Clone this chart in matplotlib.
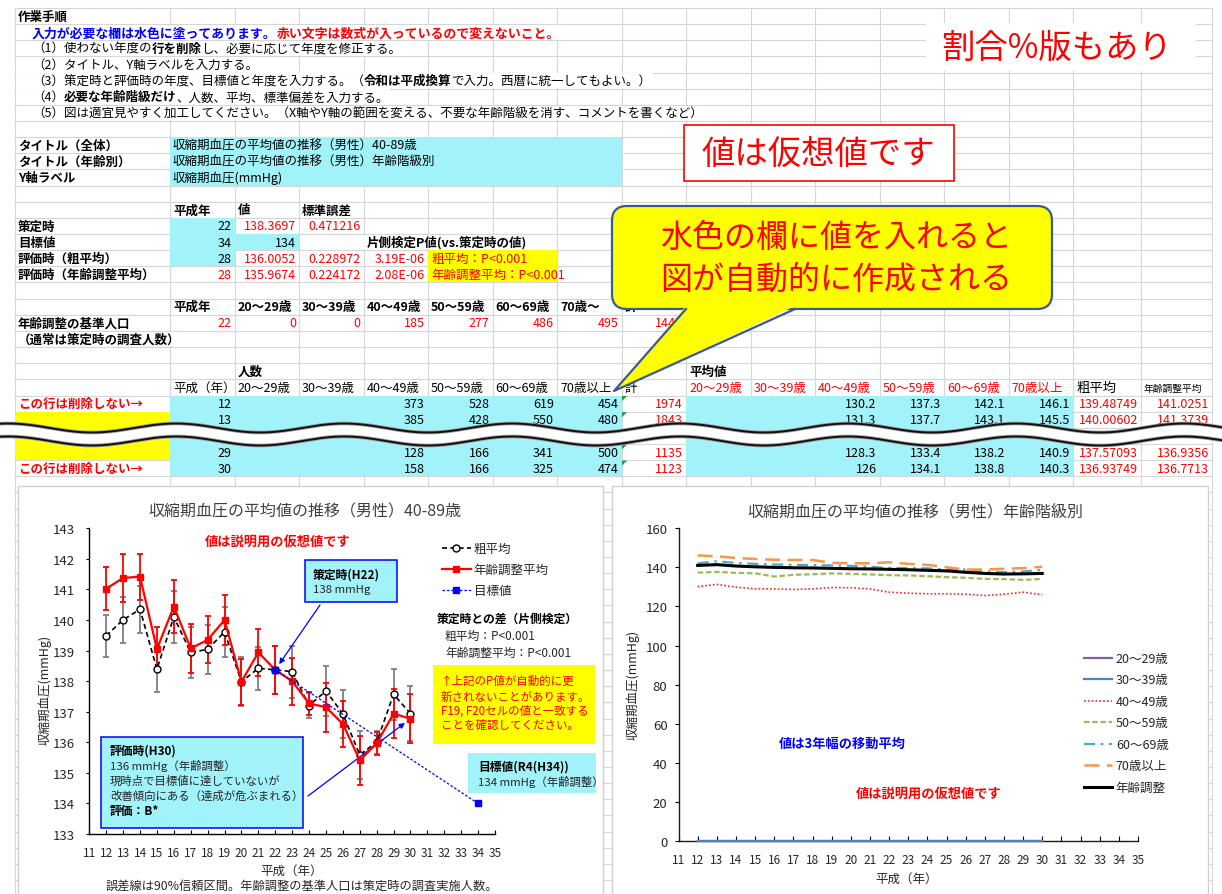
import numpy as np
import matplotlib
matplotlib.use("Agg")
import matplotlib.pyplot as plt
from matplotlib.patches import Rectangle, FancyBboxPatch, Polygon
from matplotlib.lines import Line2D

plt.rcParams["font.family"] = ["Noto Sans CJK JP", "DejaVu Sans"]

# ---------------- chart data ----------------
years = [12, 13, 14, 15, 16, 17, 18, 19, 20, 21, 22, 23, 24, 25, 26, 27, 28, 29, 30]
crude_mean = [139.487, 140.006, 140.35, 138.39, 140.10, 138.94, 139.04, 139.61, 137.98, 138.42,
              138.370, 138.31, 137.20, 137.68, 136.93, 135.59, 136.005, 137.571, 136.937]
crude_ci = [0.69, 0.75, 0.76, 0.75, 0.85, 0.84, 0.80, 0.83, 0.80, 0.70,
            0.78, 0.85, 0.40, 0.81, 0.79, 0.79, 0.38, 0.83, 0.90]
adj_mean = [141.025, 141.374, 141.42, 139.05, 140.44, 139.07, 139.35, 140.00, 137.98, 138.94,
            138.370, 138.00, 137.27, 137.15, 136.60, 135.41, 135.967, 136.936, 136.771]
adj_ci = [0.71, 0.79, 0.75, 0.72, 0.86, 0.81, 0.77, 0.81, 0.75, 0.76,
          0.78, 0.77, 0.38, 0.80, 0.74, 0.80, 0.37, 0.80, 0.80]
target_years = [22, 34]
target_values = [138.3697, 134]

# 3-year moving averages by age group
ma_20s = [0, 0, 0, 0, 0, 0, 0, 0, 0, 0, 0, 0, 0, 0, 0, 0, 0, 0, 0]
ma_30s = [0, 0, 0, 0, 0, 0, 0, 0, 0, 0, 0, 0, 0, 0, 0, 0, 0, 0, 0]
ma_40s = [130.2, 131.3, 129.9, 129.0, 129.0, 128.7, 129.0, 129.7, 129.6, 129.0,
          127.3, 126.8, 126.5, 126.5, 126.3, 125.6, 126.3, 127.3, 126.0]
ma_50s = [137.3, 137.7, 137.2, 137.0, 135.3, 136.2, 136.5, 136.9, 136.7, 136.4,
          136.0, 135.9, 135.5, 135.0, 134.7, 134.1, 134.0, 133.6, 134.1]
ma_60s = [142.1, 143.1, 142.3, 141.8, 141.5, 141.3, 141.2, 141.0, 140.8, 140.3,
          139.7, 139.7, 139.5, 138.9, 138.9, 137.9, 137.6, 137.9, 138.8]
ma_70plus = [146.1, 145.7, 144.8, 144.3, 143.9, 143.8, 143.8, 142.3, 142.1, 142.1,
             142.6, 141.8, 141.3, 140.1, 138.9, 138.9, 139.3, 139.6, 140.3]
ma_adjusted = [141.0, 141.4, 140.7, 140.3, 140.0, 139.8, 139.7, 139.5, 139.3, 139.2,
               139.0, 138.8, 138.5, 138.2, 137.5, 136.9, 136.6, 136.7, 136.9]

# ---------------- worksheet data ----------------
age_headers = ["20～29歳", "30～39歳", "40～49歳", "50～59歳", "60～69歳", "70歳～"]
age_headers2 = ["20～29歳", "30～39歳", "40～49歳", "50～59歳", "60～69歳", "70歳以上"]
base_pop = ["22", "0", "0", "185", "277", "486", "495", "1443"]
tbl_years = ["12", "13", "29", "30"]
tbl_n40 = ["373", "385", "128", "158"]
tbl_n50 = ["528", "428", "166", "166"]
tbl_n60 = ["619", "550", "341", "325"]
tbl_n70 = ["454", "480", "500", "474"]
tbl_total = ["1974", "1843", "1135", "1123"]
tbl_m40 = ["130.2", "131.3", "128.3", "126"]
tbl_m50 = ["137.3", "137.7", "133.4", "134.1"]
tbl_m60 = ["142.1", "143.1", "138.2", "138.8"]
tbl_m70 = ["146.1", "145.5", "140.9", "140.3"]
tbl_crude = ["139.48749", "140.00602", "137.57093", "136.93749"]
tbl_adj = ["141.0251", "141.3739", "136.9356", "136.7713"]
tbl_rows = [25, 26, 28, 29]

CYAN = "#a2f2fa"
YELLOW = "#ffff00"
RED = "#ff0000"
BLUE = "#0000ff"
GRID = "#d6d6d6"
TXT = "#262626"

W, H = 1222, 895
fig = plt.figure(figsize=(W / 100, H / 100), dpi=100)
bg = fig.add_axes([0, 0, 1, 1])
bg.set_xlim(0, W)
bg.set_ylim(H, 0)
bg.axis("off")
renderer = fig.canvas.get_renderer()

col_edges = [15, 170, 234.5, 299, 363.5, 428, 492.5, 557, 621.5, 686, 750.5, 815,
             879.5, 944, 1008.5, 1073, 1141, 1212]
TOP0 = 8.93
RH = 16.15


def row_top(r):
    return TOP0 + (r - 1) * RH


def row_y(r):
    return TOP0 + (r - 0.5) * RH


# ---- grid ----
for i in range(0, 56):
    y = TOP0 + i * RH
    bg.plot([col_edges[0], col_edges[-1]], [y, y], color=GRID, lw=0.8, zorder=1)
for x in col_edges:
    bg.plot([x, x], [TOP0, H], color=GRID, lw=0.8, zorder=1)


def fill(r0, r1, c0, c1, color):
    x0, x1 = col_edges[c0], col_edges[c1 + 1]
    y0, y1 = row_top(r0), row_top(r1 + 1)
    bg.add_patch(Rectangle((x0, y0), x1 - x0, y1 - y0, facecolor=color,
                           edgecolor="none", zorder=2))


fill(9, 11, 1, 7, CYAN)
fill(14, 16, 1, 1, CYAN)
fill(15, 15, 2, 2, CYAN)
fill(16, 17, 5, 6, YELLOW)
fill(25, 29, 1, 7, CYAN)
fill(25, 29, 9, 14, CYAN)
fill(26, 28, 0, 0, YELLOW)


def txt(x, y, s, color="black", weight="normal", size=9, ha="left", z=3, **kw):
    return bg.text(x, y, s, color=color, fontweight=weight, fontsize=size, ha=ha,
                   va="center", zorder=z, **kw)


def mask(r, x0, x1):
    bg.add_patch(Rectangle((x0, row_top(r) + 0.7), x1 - x0, RH - 1.4,
                           facecolor="white", edgecolor="none", zorder=2))


def rich(r, x, parts, size=9, do_mask=True):
    for s, color, weight in parts:
        t = txt(x, row_y(r), s, color, weight, size)
        x += t.get_window_extent(renderer).width
    if do_mask:
        mask(r, col_edges[0] + 0.8, x + 1)
    return x


def cell(r, c, s, color="black", weight="normal", align="left", size=9):
    if align == "left":
        x = col_edges[c] + 3
    else:
        x = col_edges[c + 1] - 3
    return txt(x, row_y(r), s, color, weight, size, ha=align)


# ---- instructions ----
cell(1, 0, "作業手順", weight="bold")
rich(2, 32, [("入力が必要な欄は水色に塗ってあります。", BLUE, "bold"),
             ("赤い文字は数式が入っているので変えないこと。", RED, "bold")], size=9.3)
rich(3, 32, [("（1）使わない年度の", "black", "normal"), ("行を削除", "black", "bold"),
             ("し、必要に応じて年度を修正する。", "black", "normal")])
rich(4, 32, [("（2）タイトル、Y軸ラベルを入力する。", "black", "normal")])
rich(5, 32, [("（3）策定時と評価時の年度、目標値と年度を入力する。（", "black", "normal"),
             ("令和は平成換算", "black", "bold"),
             ("で入力。西暦に統一してもよい。）", "black", "normal")])
rich(6, 32, [("（4）", "black", "normal"), ("必要な年齢階級だけ", "black", "bold"),
             ("、人数、平均、標準偏差を入力する。", "black", "normal")])
rich(7, 32, [("（5）図は適宜見やすく加工してください。（X軸やY軸の範囲を変える、不要な年齢階級を消す、コメントを書くなど）",
              "black", "normal")])

# ---- settings block ----
cell(9, 0, "タイトル（全体）", weight="bold")
cell(10, 0, "タイトル（年齢別）", weight="bold")
cell(11, 0, "Y軸ラベル", weight="bold")
cell(9, 1, "収縮期血圧の平均値の推移（男性）40-89歳")
cell(10, 1, "収縮期血圧の平均値の推移（男性）年齢階級別")
cell(11, 1, "収縮期血圧(mmHg)")

cell(13, 1, "平成年", weight="bold")
cell(13, 2, "値", weight="bold")
cell(13, 3, "標準誤差", weight="bold")
cell(14, 0, "策定時", weight="bold")
cell(15, 0, "目標値", weight="bold")
cell(16, 0, "評価時（粗平均）", weight="bold")
cell(17, 0, "評価時（年齢調整平均）", weight="bold")
cell(14, 1, "22", align="right")
cell(14, 2, "138.3697", RED, align="right")
cell(14, 3, "0.471216", RED, align="right")
cell(15, 1, "34", align="right")
cell(15, 2, "134", align="right")
t = cell(15, 4, "片側検定P値(vs.策定時の値)", weight="bold")
mask(15, col_edges[4] + 0.8, col_edges[4] + 3 + t.get_window_extent(renderer).width + 1)
cell(16, 1, "28", align="right")
cell(16, 2, "136.0052", RED, align="right")
cell(16, 3, "0.228972", RED, align="right")
cell(16, 4, "3.19E-06", RED, align="right")
cell(16, 5, "粗平均：P<0.001", RED)
cell(17, 1, "28", RED, align="right")
cell(17, 2, "135.9674", RED, align="right")
cell(17, 3, "0.224172", RED, align="right")
cell(17, 4, "2.08E-06", RED, align="right")
cell(17, 5, "年齢調整平均：P<0.001", RED)

cell(19, 1, "平成年", weight="bold")
for i, h in enumerate(age_headers):
    cell(19, 2 + i, h, weight="bold")
cell(19, 8, "計", weight="bold")
cell(20, 0, "年齢調整の基準人口", weight="bold")
for i, v in enumerate(base_pop):
    cell(20, 1 + i, v, RED, align="right")
t = cell(21, 0, "（通常は策定時の調査人数）", weight="bold")
mask(21, col_edges[0] + 0.8, col_edges[0] + 3 + t.get_window_extent(renderer).width + 1)

cell(23, 2, "人数", weight="bold")
cell(23, 9, "平均値", weight="bold")
cell(24, 1, "平成（年）")
for i, h in enumerate(age_headers2):
    cell(24, 2 + i, h)
    cell(24, 9 + i, h, RED)
cell(24, 8, "計")
cell(24, 15, "粗平均", size=9.6)
cell(24, 16, "年齢調整平均", size=7)

for k, r in enumerate(tbl_rows):
    cell(r, 1, tbl_years[k], align="right")
    cell(r, 4, tbl_n40[k], align="right")
    cell(r, 5, tbl_n50[k], align="right")
    cell(r, 6, tbl_n60[k], align="right")
    cell(r, 7, tbl_n70[k], align="right")
    cell(r, 8, tbl_total[k], RED, align="right")
    cell(r, 11, tbl_m40[k], align="right")
    cell(r, 12, tbl_m50[k], align="right")
    cell(r, 13, tbl_m60[k], align="right")
    cell(r, 14, tbl_m70[k], align="right")
    cell(r, 15, tbl_crude[k], RED, align="right")
    cell(r, 16, tbl_adj[k], RED, align="right")
    x0, y0 = col_edges[8] + 0.5, row_top(r) + 0.5
    bg.add_patch(Polygon([(x0, y0), (x0 + 5, y0), (x0, y0 + 5)], closed=True,
                         facecolor="#1e9e3a", edgecolor="none", zorder=4))
cell(25, 0, "この行は削除しない→", RED, weight="bold")
cell(29, 0, "この行は削除しない→", RED, weight="bold")

# ---- torn-page waves ----
xs = np.linspace(0, W, 800)
wave = 4.5 * np.cos(2 * np.pi * (xs - 92) / 168)
y_top = 429 + wave
y_bot = 442 + wave
bg.fill_between(xs, y_top, y_bot, color="white", zorder=6)
for yy in (y_top, y_bot):
    bg.plot(xs, yy, color="#9a9a9a", lw=2.6, zorder=6.5, solid_capstyle="butt")
    bg.plot(xs, yy, color="#111111", lw=1.4, zorder=7)

# ---- notes on the sheet ----
bg.add_patch(Rectangle((926, 24), 270, 48, facecolor="white", edgecolor="none", zorder=8))
txt(1057, 48, "割合%版もあり", RED, size=24, ha="center", z=9)
bg.add_patch(Rectangle((684, 126), 270, 56, facecolor="white", edgecolor=RED, lw=1.2, zorder=8))
txt(818, 154, "値は仮想値です", RED, size=24, ha="center", z=9)

callout_edge = "#3a5a95"
bg.add_patch(FancyBboxPatch((612, 207), 440, 103, boxstyle="round,pad=0,rounding_size=15",
                            facecolor=YELLOW, edgecolor=callout_edge, lw=1.6, zorder=8))
bg.add_patch(Polygon([(686, 307), (614, 392), (795, 307)], closed=True,
                     facecolor=YELLOW, edgecolor="none", zorder=8.5))
bg.add_line(Line2D([686, 614, 795], [310, 392, 310], color=callout_edge, lw=1.6, zorder=8.6))
txt(836, 238, "水色の欄に値を入れると", RED, size=23, ha="center", z=9)
txt(836, 280, "図が自動的に作成される", RED, size=23, ha="center", z=9)

# ---- chart frames ----
bg.add_patch(Rectangle((18, 487), 585, 420, facecolor="white", edgecolor="#d0d0d0", lw=1, zorder=8))
bg.add_patch(Rectangle((612, 487), 596, 420, facecolor="white", edgecolor="#d0d0d0", lw=1, zorder=8))


def px_axes(x0, y0, x1, y1):
    return fig.add_axes([x0 / W, 1 - y1 / H, (x1 - x0) / W, (y1 - y0) / H])


# ================= chart 1 =================
ax1 = px_axes(89.3, 529.3, 495, 835)
ax1.patch.set_visible(False)
ax1.set_xlim(11, 35)
ax1.set_ylim(133, 143)
ax1.set_xticks(range(11, 36))
ax1.set_yticks(range(133, 144))
for s in ("top", "right"):
    ax1.spines[s].set_visible(False)
for s in ("left", "bottom"):
    ax1.spines[s].set_color("black")
    ax1.spines[s].set_linewidth(1.0)
ax1.tick_params(axis="x", direction="in", length=3, labelsize=8.5, pad=9, labelcolor=TXT)
ax1.tick_params(axis="y", direction="out", length=2.5, labelsize=9.5, pad=8, labelcolor=TXT)

ax1.errorbar(years, crude_mean, yerr=crude_ci, fmt="none", ecolor="#7f7f7f",
             elinewidth=1.3, capsize=2, capthick=1.3, zorder=2)
ax1.errorbar(years, adj_mean, yerr=adj_ci, fmt="none", ecolor=RED,
             elinewidth=1.3, capsize=2, capthick=1.3, zorder=2.5)
l_crude, = ax1.plot(years, crude_mean, color="black", ls=(0, (3, 2)), lw=1.2, marker="o",
                    ms=5, mfc="white", mec="black", mew=1.0, label="粗平均", zorder=3)
l_adj, = ax1.plot(years, adj_mean, color=RED, lw=1.6, marker="s", ms=5, mec=RED,
                  label="年齢調整平均", zorder=4)
l_tgt, = ax1.plot(target_years, target_values, color=BLUE, ls=(0, (2, 1.5)), lw=0.9,
                  marker="s", ms=5, mec=BLUE, label="目標値", zorder=5, clip_on=False)

leg1 = ax1.legend(handles=[l_crude, l_adj, l_tgt], loc="upper left",
                  bbox_to_anchor=(442 / W, 1 - 543 / H), bbox_transform=fig.transFigure,
                  frameon=False, fontsize=9, handlelength=2.3, handletextpad=0.25,
                  labelspacing=0.66, borderpad=0, borderaxespad=0, numpoints=1)
for t in leg1.get_texts():
    t.set_color(TXT)

# ================= chart 2 =================
ax2 = px_axes(678.5, 529.3, 1138, 842)
ax2.patch.set_visible(False)
ax2.set_xlim(11, 35)
ax2.set_ylim(0, 160)
ax2.set_xticks(range(11, 36))
ax2.set_yticks(range(0, 161, 20))
for s in ("top", "right"):
    ax2.spines[s].set_visible(False)
for s in ("left", "bottom"):
    ax2.spines[s].set_color("#1a1a1a")
    ax2.spines[s].set_linewidth(1.0)
ax2.tick_params(axis="x", direction="in", length=3.5, labelsize=8.5, pad=9, labelcolor=TXT)
ax2.tick_params(axis="y", direction="out", length=3, labelsize=9.5, pad=5, labelcolor=TXT)

series2 = [
    (ma_20s, "20～29歳", dict(color="#8064a2", lw=1.6)),
    (ma_30s, "30～39歳", dict(color="#4f81bd", lw=1.6)),
    (ma_40s, "40～49歳", dict(color="#ff2020", lw=1.2, ls=(0, (1, 1.3)))),
    (ma_50s, "50～59歳", dict(color="#9bbb59", lw=1.6, ls=(0, (2.5, 1.2)))),
    (ma_60s, "60～69歳", dict(color="#4bacc6", lw=1.6, ls=(0, (5, 2.5, 1.2, 2.5)))),
    (ma_70plus, "70歳以上", dict(color="#f79646", lw=1.8, ls=(0, (6, 3)))),
    (ma_adjusted, "年齢調整", dict(color="black", lw=2.2)),
]
handles2 = []
for vals, lab, style in series2:
    ln, = ax2.plot(years, vals, label=lab, zorder=3, clip_on=False, **style)
    handles2.append(ln)
leg2 = ax2.legend(handles=handles2, loc="upper left",
                  bbox_to_anchor=(1084 / W, 1 - 653 / H), bbox_transform=fig.transFigure,
                  frameon=False, fontsize=9, handlelength=2.25, handletextpad=0.3,
                  labelspacing=0.68, borderpad=0, borderaxespad=0)
for t in leg2.get_texts():
    t.set_color(TXT)

# ================= overlay (pixel coordinates) =================
top = fig.add_axes([0, 0, 1, 1])
top.set_xlim(0, W)
top.set_ylim(H, 0)
top.axis("off")
top.patch.set_visible(False)


def otext(x, y, s, color=TXT, weight="normal", size=9, ha="left", **kw):
    return top.text(x, y, s, color=color, fontweight=weight, fontsize=size, ha=ha,
                    va="center", zorder=10, **kw)


# chart 1 texts
otext(305, 512, "収縮期血圧の平均値の推移（男性）40-89歳", "#404040", size=11.5, ha="center")
otext(278, 542, "値は説明用の仮想値です", RED, "bold", 9.5, ha="center")
otext(45, 690, "収縮期血圧(mmHg)", TXT, size=9, ha="center", rotation=90)
otext(292, 871, "平成（年）", TXT, size=9, ha="center")
otext(302, 886, "誤差線は90%信頼区間。年齢調整の基準人口は策定時の調査実施人数。", TXT, size=8.8, ha="center")

otext(437, 619, "策定時との差（片側検定）", "black", "bold", 8.5)
otext(445, 636, "粗平均：P<0.001", TXT, size=8.5)
otext(445, 653, "年齢調整平均：P<0.001", TXT, size=8.5)

top.add_patch(Rectangle((433, 666), 162, 79, facecolor=YELLOW, edgecolor="none", zorder=9))
for yy, s in zip([681, 697, 711, 726],
                 ["↑上記のP値が自動的に更", "新されないことがあります。",
                  "F19, F20セルの値と一致する", "ことを確認してください。"]):
    otext(441, yy, s, RED, size=8.3)

# callout boxes
top.add_patch(Rectangle((305, 561), 92, 42, facecolor=CYAN, edgecolor=BLUE, lw=1.1, zorder=9))
otext(313, 575, "策定時(H22)", "black", "bold", 8.5)
otext(313, 590, "138 mmHg", TXT, size=8.2)

top.add_patch(Rectangle((101, 738), 202, 91, facecolor=CYAN, edgecolor=BLUE, lw=1.1, zorder=9))
otext(110, 751, "評価時(H30)", "black", "bold", 8.5)
otext(110, 766, "136 mmHg（年齢調整）", TXT, size=8.2)
otext(110, 781, "現時点で目標値に達していないが", TXT, size=8.2)
otext(110, 796, "改善傾向にある（達成が危ぶまれる）", TXT, size=8.2)
otext(110, 812, "評価：B*", "black", "bold", 8.5)

top.add_patch(Rectangle((468, 754), 128, 40, facecolor=CYAN, edgecolor="none", zorder=9))
otext(478, 767, "目標値(R4(H34))", "black", "bold", 8.5)
otext(478, 782, "134 mmHg（年齢調整）", TXT, size=8.2)

arrow_kw = dict(arrowstyle="-|>", color=BLUE, lw=0.9, shrinkA=0, mutation_scale=8)
ax1.annotate("", xy=(target_years[0], target_values[0]), xycoords="data",
             xytext=(320, 606), textcoords=top.transData,
             arrowprops=dict(shrinkB=5, **arrow_kw), annotation_clip=False)
ax1.annotate("", xy=(years[-1], adj_mean[-1]), xycoords="data",
             xytext=(308, 797), textcoords=top.transData,
             arrowprops=dict(shrinkB=5, **arrow_kw), annotation_clip=False)

# chart 2 texts
otext(915, 512, "収縮期血圧の平均値の推移（男性）年齢階級別", "#404040", size=11.5, ha="center")
otext(633, 685, "収縮期血圧(mmHg)", TXT, size=9, ha="center", rotation=90)
otext(907, 879, "平成（年）", TXT, size=9, ha="center")
otext(842, 744, "値は3年幅の移動平均", BLUE, "bold", 9.5, ha="center")
otext(929, 794, "値は説明用の仮想値です", RED, "bold", 9.5, ha="center")

fig.savefig("out.png", dpi=100)
